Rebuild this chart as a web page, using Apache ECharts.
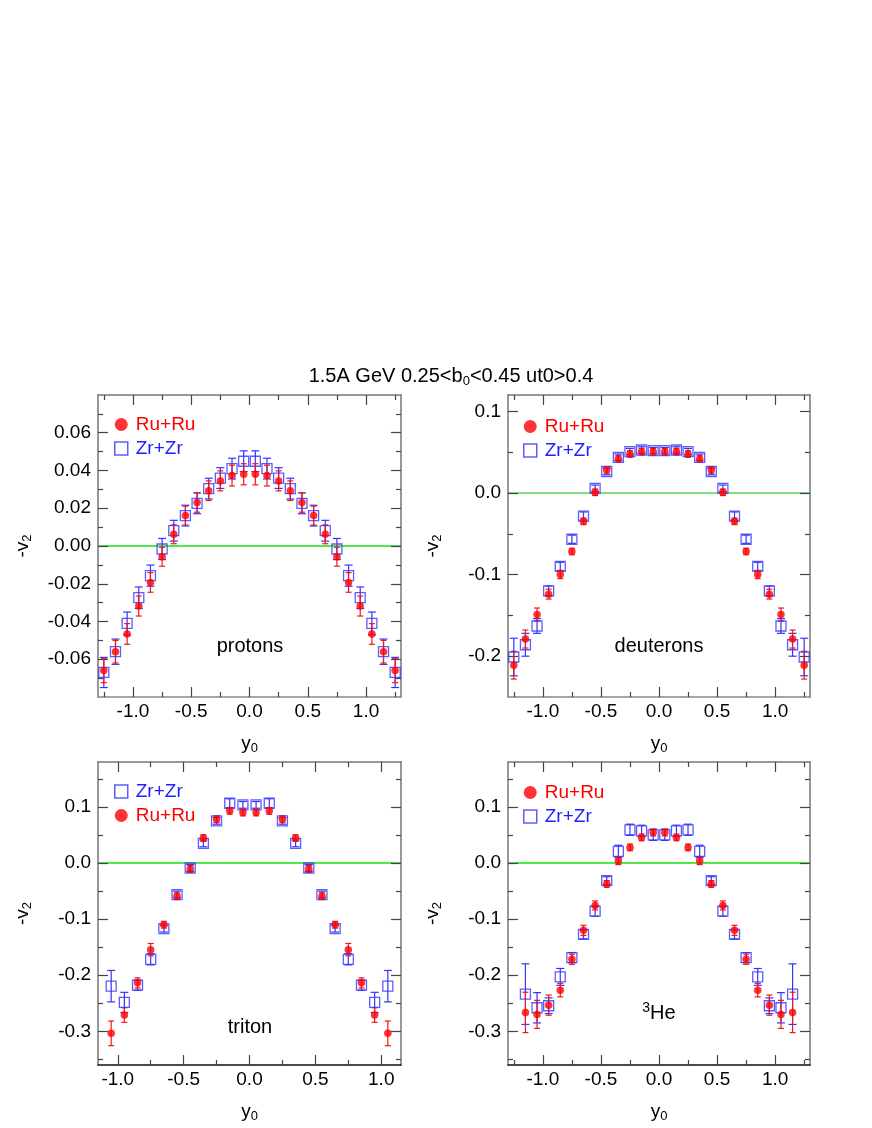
<!DOCTYPE html>
<html>
<head>
<meta charset="utf-8">
<script src="https://cdn.jsdelivr.net/npm/echarts@6/dist/echarts.min.js"></script>
<style>
  body { margin: 0; background: #fff; }
  #chart { width: 872px; height: 1128px; }
</style>
</head>
<body>
<div id="chart"></div>
<script>
// rapidity bins
const y0Wide = [-1.25, -1.15, -1.05, -0.95, -0.85, -0.75, -0.65, -0.55, -0.45, -0.35, -0.25, -0.15, -0.05,
                0.05, 0.15, 0.25, 0.35, 0.45, 0.55, 0.65, 0.75, 0.85, 0.95, 1.05, 1.15, 1.25];
const y0Triton = [-1.05, -0.95, -0.85, -0.75, -0.65, -0.55, -0.45, -0.35, -0.25, -0.15, -0.05,
                  0.05, 0.15, 0.25, 0.35, 0.45, 0.55, 0.65, 0.75, 0.85, 0.95, 1.05];
const y0He3 = [-1.15, -1.05, -0.95, -0.85, -0.75, -0.65, -0.55, -0.45, -0.35, -0.25, -0.15, -0.05,
               0.05, 0.15, 0.25, 0.35, 0.45, 0.55, 0.65, 0.75, 0.85, 0.95, 1.05, 1.15];

// protons
const protonRu = [-0.066, -0.056, -0.0466, -0.0318, -0.0193, -0.0057, 0.0062, 0.0161, 0.0231, 0.0293, 0.0345, 0.0373, 0.038,
                  0.038, 0.0373, 0.0345, 0.0293, 0.0231, 0.0161, 0.0062, -0.0057, -0.0193, -0.0318, -0.0466, -0.056, -0.066];
const protonRuErr = [0.0064, 0.006, 0.0055, 0.0053, 0.0052, 0.005, 0.005, 0.005, 0.0052, 0.0052, 0.0053, 0.0055, 0.0056,
                     0.0056, 0.0055, 0.0053, 0.0052, 0.0052, 0.005, 0.005, 0.005, 0.0052, 0.0053, 0.0055, 0.006, 0.0064];
const protonZr = [-0.067, -0.056, -0.041, -0.0274, -0.0157, -0.0016, 0.0081, 0.0161, 0.0226, 0.0304, 0.036, 0.041, 0.0449,
                  0.0449, 0.041, 0.036, 0.0304, 0.0226, 0.0161, 0.0081, -0.0016, -0.0157, -0.0274, -0.041, -0.056, -0.067];
const protonZrErr = [0.008, 0.0067, 0.006, 0.0057, 0.0056, 0.0056, 0.0055, 0.0055, 0.0055, 0.0055, 0.0055, 0.0055, 0.0055,
                     0.0055, 0.0055, 0.0055, 0.0055, 0.0055, 0.0055, 0.0055, 0.0056, 0.0056, 0.0057, 0.006, 0.0067, 0.008];

// deuterons
const deutRu = [-0.211, -0.179, -0.149, -0.124, -0.1, -0.0717, -0.0348, 0.0008, 0.0283, 0.0417, 0.0478, 0.0506, 0.0506,
                0.0506, 0.0506, 0.0478, 0.0417, 0.0283, 0.0008, -0.0348, -0.0717, -0.1, -0.124, -0.149, -0.179, -0.211];
const deutRuErr = [0.017, 0.011, 0.008, 0.006, 0.005, 0.004, 0.004, 0.004, 0.004, 0.004, 0.004, 0.004, 0.004,
                   0.004, 0.004, 0.004, 0.004, 0.004, 0.004, 0.004, 0.004, 0.005, 0.006, 0.008, 0.011, 0.017];
const deutZr = [-0.201, -0.186, -0.163, -0.12, -0.09, -0.0567, -0.0283, 0.0057, 0.0263, 0.0437, 0.0506, 0.0526, 0.0518,
                0.0518, 0.0526, 0.0506, 0.0437, 0.0263, 0.0057, -0.0283, -0.0567, -0.09, -0.12, -0.163, -0.186, -0.201];
const deutZrErr = [0.023, 0.014, 0.009, 0.006, 0.005, 0.005, 0.005, 0.004, 0.004, 0.004, 0.004, 0.004, 0.004,
                   0.004, 0.004, 0.004, 0.004, 0.004, 0.004, 0.005, 0.005, 0.005, 0.006, 0.009, 0.014, 0.023];

// tritons
const tritonZr = [-0.2195, -0.2485, -0.2178, -0.1716, -0.117, -0.0562, -0.0089, 0.0349, 0.0751, 0.1065, 0.1036,
                  0.1036, 0.1065, 0.0751, 0.0349, -0.0089, -0.0562, -0.117, -0.1716, -0.2178, -0.2485, -0.2195];
const tritonZrErr = [0.028, 0.018, 0.009, 0.01, 0.006, 0.006, 0.006, 0.006, 0.006, 0.008, 0.006,
                     0.006, 0.008, 0.006, 0.006, 0.006, 0.006, 0.006, 0.01, 0.009, 0.018, 0.028];
const tritonRu = [-0.3036, -0.271, -0.2136, -0.1544, -0.11, -0.0592, -0.0107, 0.0444, 0.0781, 0.0929, 0.09,
                  0.09, 0.0929, 0.0781, 0.0444, -0.0107, -0.0592, -0.11, -0.1544, -0.2136, -0.271, -0.3036];
const tritonRuErr = [0.022, 0.013, 0.009, 0.011, 0.006, 0.006, 0.006, 0.006, 0.006, 0.006, 0.006,
                     0.006, 0.006, 0.006, 0.006, 0.006, 0.006, 0.006, 0.011, 0.009, 0.013, 0.022];

// 3He
const he3Zr = [-0.2337, -0.258, -0.2544, -0.203, -0.1686, -0.1272, -0.0858, -0.0314, 0.0207, 0.0592, 0.0574, 0.0503,
               0.0503, 0.0574, 0.0592, 0.0207, -0.0314, -0.0858, -0.1272, -0.1686, -0.203, -0.2544, -0.258, -0.2337];
const he3ZrErr = [0.054, 0.027, 0.014, 0.015, 0.009, 0.008, 0.009, 0.007, 0.011, 0.01, 0.01, 0.01,
                  0.01, 0.01, 0.01, 0.011, 0.007, 0.009, 0.008, 0.009, 0.015, 0.014, 0.027, 0.054];
const he3Ru = [-0.2663, -0.2698, -0.2533, -0.2266, -0.1716, -0.12, -0.0757, -0.0373, 0.0041, 0.0278, 0.0456, 0.0544,
               0.0544, 0.0456, 0.0278, 0.0041, -0.0373, -0.0757, -0.12, -0.1716, -0.2266, -0.2533, -0.2698, -0.2663];
const he3RuErr = [0.036, 0.025, 0.018, 0.012, 0.009, 0.009, 0.008, 0.006, 0.007, 0.006, 0.006, 0.006,
                  0.006, 0.006, 0.006, 0.007, 0.006, 0.008, 0.009, 0.009, 0.012, 0.018, 0.025, 0.036];

// tick labels
const xMajor = [-1, -0.5, 0, 0.5, 1];
const xMinorWide = [-1.25, -0.75, -0.25, 0.25, 0.75, 1.25];
const xMinorNarrow = [-0.75, -0.25, 0.25, 0.75];
const yMajorProton = [-0.06, -0.04, -0.02, 0, 0.02, 0.04, 0.06];
const yMinorProton = [-0.07, -0.05, -0.03, -0.01, 0.01, 0.03, 0.05, 0.07];
const yMajorDeut = [-0.2, -0.1, 0, 0.1];
const yMinorDeut = [-0.15, -0.05, 0.05];
const yMajorBottom = [-0.3, -0.2, -0.1, 0, 0.1];
const yMinorBottom = [-0.35, -0.25, -0.15, -0.05, 0.05, 0.15];
const zeroLine = [0];

const FONT = 'Liberation Sans, Arial, Helvetica, sans-serif';
const FS = 19;
const RED = '#ff0000';
const BLUE = '#3434ff';
const FRAME = '#777';
const TICK = '#444';
const subRich = { s: { fontSize: 13, fontFamily: FONT, padding: [10, 0, 0, 0] } };

const panels = [
  { grid: { left: 98, top: 395, width: 303, height: 302 }, xr: [-1.3, 1.3], yr: [-0.08, 0.08],
    xMinor: xMinorWide, yMajor: yMajorProton, yMinor: yMinorProton, dec: 2, zero: '#11e011', base: '#888' },
  { grid: { left: 508, top: 395, width: 302, height: 302 }, xr: [-1.3, 1.3], yr: [-0.25, 0.12],
    xMinor: xMinorWide, yMajor: yMajorDeut, yMinor: yMinorDeut, dec: 1, zero: '#55d855', base: '#888' },
  { grid: { left: 98, top: 762, width: 303, height: 303 }, xr: [-1.15, 1.15], yr: [-0.36, 0.18],
    xMinor: xMinorNarrow, yMajor: yMajorBottom, yMinor: yMinorBottom, dec: 1, zero: '#11e011', base: '#111' },
  { grid: { left: 508, top: 762, width: 302, height: 303 }, xr: [-1.3, 1.3], yr: [-0.36, 0.18],
    xMinor: xMinorWide, yMajor: yMajorBottom, yMinor: yMinorBottom, dec: 1, zero: '#11e011', base: '#111' }
];

const NY = 5; // y axes per grid: 4 frame axes + 1 for the zero line

// main bottom/left, minor bottom/left, main top/right, minor top/right
function makeAxes(dim, p, gi) {
  const range = dim === 'x' ? p.xr : p.yr;
  const major = dim === 'x' ? xMajor : p.yMajor;
  const minor = dim === 'x' ? p.xMinor : p.yMinor;
  const sides = dim === 'x' ? ['bottom', 'top'] : ['left', 'right'];
  const out = [];
  sides.forEach((side, si) => {
    [major, minor].forEach((vals, mi) => {
      const lineColor = (dim === 'x' && si === 0) ? p.base : FRAME;
      const ax = {
        type: 'value', gridIndex: gi, position: side, min: range[0], max: range[1],
        splitLine: { show: false },
        axisLine: { show: mi === 0, onZero: false, lineStyle: { color: lineColor, width: 1.5 } },
        axisTick: { show: true, inside: true, length: mi === 0 ? 10 : 5, customValues: vals,
                    lineStyle: { color: TICK, width: 1.2 } },
        axisLabel: { show: false }
      };
      if (si === 0 && mi === 0) {
        ax.axisLabel = {
          show: true, customValues: vals, fontSize: FS, fontFamily: FONT, color: '#000', margin: dim === 'x' ? 5 : 7,
          formatter: v => (dim === 'x' ? v.toFixed(1) : v.toFixed(p.dec))
        };
        ax.nameLocation = 'middle';
        ax.nameTextStyle = { fontSize: FS, fontFamily: FONT, color: '#000', rich: subRich };
        if (dim === 'x') { ax.name = 'y{s|0}'; ax.nameGap = 35; }
        else { ax.name = '-v{s|2}'; ax.nameGap = 64; }
      }
      out.push(ax);
    });
  });
  if (dim === 'y') {
    // zero reference line, drawn as a split line at y = 0
    out.push({
      type: 'value', gridIndex: gi, position: 'left', min: range[0], max: range[1],
      axisLine: { show: false, onZero: false }, axisLabel: { show: false, customValues: zeroLine },
      axisTick: { show: false, customValues: zeroLine },
      splitLine: { show: true, lineStyle: { color: p.zero, width: 1.5, type: 'solid', opacity: 1 } }
    });
  }
  return out;
}

function errorBars(gi, xs, ys, es, color, cap) {
  return {
    type: 'custom', xAxisIndex: gi * 4, yAxisIndex: gi * NY, silent: true, clip: true, z: 2,
    data: xs.map((x, i) => [x, ys[i] - es[i], ys[i] + es[i]]),
    encode: { x: 0, y: [1, 2] },
    renderItem: (params, api) => {
      const lo = api.coord([api.value(0), api.value(1)]);
      const hi = api.coord([api.value(0), api.value(2)]);
      const h = cap / 2;
      const st = { stroke: color, lineWidth: 1.2 };
      return {
        type: 'group', children: [
          { type: 'line', shape: { x1: lo[0], y1: lo[1], x2: hi[0], y2: hi[1] }, style: st },
          { type: 'line', shape: { x1: lo[0] - h, y1: lo[1], x2: lo[0] + h, y2: lo[1] }, style: st },
          { type: 'line', shape: { x1: hi[0] - h, y1: hi[1], x2: hi[0] + h, y2: hi[1] }, style: st }
        ]
      };
    }
  };
}

function ruPoints(gi, xs, ys) {
  return {
    name: 'Ru+Ru', type: 'scatter', xAxisIndex: gi * 4, yAxisIndex: gi * NY, z: 4,
    symbol: 'circle', symbolSize: 7.5, itemStyle: { color: RED },
    data: xs.map((x, i) => [x, ys[i]])
  };
}

function zrPoints(gi, xs, ys) {
  return {
    name: 'Zr+Zr', type: 'scatter', xAxisIndex: gi * 4, yAxisIndex: gi * NY, z: 3,
    symbol: 'rect', symbolSize: 10,
    itemStyle: { color: 'rgba(0,0,0,0)', borderColor: BLUE, borderWidth: 1.3 },
    data: xs.map((x, i) => [x, ys[i]])
  };
}

const sets = [
  [y0Wide, protonRu, protonRuErr, protonZr, protonZrErr],
  [y0Wide, deutRu, deutRuErr, deutZr, deutZrErr],
  [y0Triton, tritonRu, tritonRuErr, tritonZr, tritonZrErr],
  [y0He3, he3Ru, he3RuErr, he3Zr, he3ZrErr]
];

const series = [];
sets.forEach((s, gi) => {
  series.push(errorBars(gi, s[0], s[3], s[4], BLUE, 8));
  series.push(errorBars(gi, s[0], s[1], s[2], '#f01818', 6));
  series.push(zrPoints(gi, s[0], s[3]));
  series.push(ruPoints(gi, s[0], s[1]));
});

const ruItem = { name: 'Ru+Ru', icon: 'circle', itemStyle: { color: RED }, textStyle: { color: RED } };
const zrItem = { name: 'Zr+Zr', icon: 'rect',
  itemStyle: { color: 'rgba(0,0,0,0)', borderColor: BLUE, borderWidth: 1.5 }, textStyle: { color: '#2020ff' } };

function legendAt(left, top, items) {
  return {
    left: left, top: top, orient: 'vertical', itemWidth: 13, itemHeight: 13, itemGap: 5,
    selectedMode: false, padding: 0,
    textStyle: { fontSize: FS, fontFamily: FONT, padding: [0, 0, 0, 3] },
    data: items
  };
}

const chart = echarts.init(document.getElementById('chart'));
chart.setOption({
  backgroundColor: '#fff',
  animation: false,
  title: {
    text: '1.5A GeV 0.25<b{s|0}<0.45 ut0>0.4',
    left: 446, top: 360, textAlign: 'center',
    textStyle: { fontSize: 20, fontWeight: 'normal', fontFamily: FONT, color: '#000', rich: subRich }
  },
  legend: [
    legendAt(114, 415, [ruItem, zrItem]),
    legendAt(523, 417, [ruItem, zrItem]),
    legendAt(114, 782, [zrItem, ruItem]),
    legendAt(523, 783, [ruItem, zrItem])
  ],
  grid: panels.map(p => Object.assign({ containLabel: false }, p.grid)),
  xAxis: panels.flatMap((p, gi) => makeAxes('x', p, gi)),
  yAxis: panels.flatMap((p, gi) => makeAxes('y', p, gi)),
  series: series,
  graphic: [
    { type: 'text', x: 250, y: 646, style: { text: 'protons', fill: '#000', fontSize: 20, fontFamily: FONT, align: 'center', verticalAlign: 'middle' } },
    { type: 'text', x: 659, y: 646, style: { text: 'deuterons', fill: '#000', fontSize: 20, fontFamily: FONT, align: 'center', verticalAlign: 'middle' } },
    { type: 'text', x: 250, y: 1027, style: { text: 'triton', fill: '#000', fontSize: 20, fontFamily: FONT, align: 'center', verticalAlign: 'middle' } },
    { type: 'text', x: 659, y: 1013, style: { text: '{sup|3}He', fill: '#000', fontSize: 20, fontFamily: FONT, align: 'center', verticalAlign: 'middle',
      rich: { sup: { fontSize: 14, fontFamily: FONT, fill: '#000', padding: [0, 0, 10, 0] } } } }
  ]
});
</script>
</body>
</html>
